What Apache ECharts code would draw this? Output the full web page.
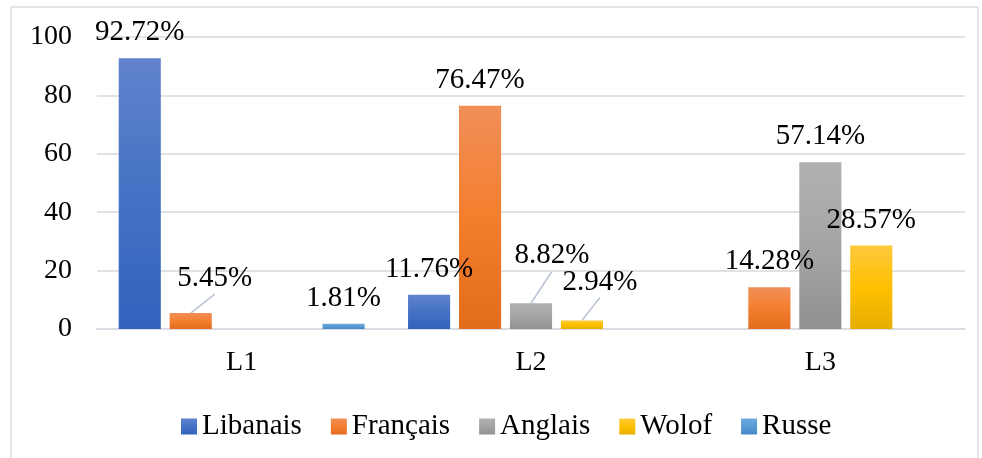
<!DOCTYPE html>
<html>
<head>
<meta charset="utf-8">
<script src="https://cdn.jsdelivr.net/npm/echarts@6/dist/echarts.min.js"></script>
<style>
  html, body { margin: 0; padding: 0; background: #fff; }
  #chart { width: 982px; height: 458px; }
</style>
</head>
<body>
<div id="chart"></div>
<script>
const categories = ['L1', 'L2', 'L3'];
const seriesNames = ['Libanais', 'Français', 'Anglais', 'Wolof', 'Russe'];
const libanais = [92.72, 11.76, 0];
const francais = [5.45, 76.47, 14.28];
const anglais = [0, 8.82, 57.14];
const wolof = [0, 2.94, 28.57];
const russe = [1.81, 0, 0];
const yTicks = [0, 20, 40, 60, 80, 100];

// label moves for the small bars that have a leader line: [series][category]
const labelMoves = {
  'Français-0': [24, -9],
  'Anglais-1': [21, -22],
  'Wolof-1': [18, -13]
};

function grad(top, mid, bottom) {
  return new echarts.graphic.LinearGradient(0, 0, 0, 1, [
    { offset: 0, color: top },
    { offset: 0.5, color: mid },
    { offset: 1, color: bottom }
  ]);
}

const colors = [
  grad('#6283cd', '#4472c4', '#3262bd'),
  grad('#f18f58', '#f47e2d', '#e36c1c'),
  grad('#b1b1b1', '#a5a5a5', '#919191'),
  grad('#ffc93d', '#ffc000', '#e6ae00'),
  grad('#6ea8df', '#5b9bd5', '#4388c9')
];

const serif = 'Liberation Serif';
const values = [libanais, francais, anglais, wolof, russe];

const chart = echarts.init(document.getElementById('chart'));

const series = seriesNames.map((name, i) => ({
  name: name,
  type: 'bar',
  data: values[i],
  barGap: '21%',
  barCategoryGap: '15%',
  itemStyle: { color: colors[i] },
  label: {
    show: true,
    position: 'top',
    distance: 11,
    fontFamily: serif,
    fontSize: 29,
    color: '#000',
    formatter: p => (p.value ? p.value.toFixed(2) + '%' : '')
  },
  labelLayout: p => {
    const m = labelMoves[name + '-' + p.dataIndex];
    return m ? { dx: m[0], dy: m[1] } : {};
  }
}));

const frame = {
  id: 'frame',
  type: 'rect',
  shape: { x: 11, y: 7, width: 967, height: 470 },
  style: { fill: 'none', stroke: '#d9dde3', lineWidth: 1.5 },
  silent: true
};

chart.setOption({
  animation: false,
  backgroundColor: '#fff',
  graphic: [frame],
  grid: { left: 97, right: 17, top: 37, bottom: 129 },
  legend: {
    data: seriesNames,
    left: 176,
    top: 407,
    itemWidth: 16,
    itemHeight: 16,
    itemGap: 29,
    icon: 'rect',
    textStyle: { fontFamily: serif, fontSize: 29, color: '#000' }
  },
  xAxis: {
    type: 'category',
    data: categories,
    axisLine: { lineStyle: { color: '#d9dde3', width: 2 } },
    axisTick: { show: false },
    axisLabel: { fontFamily: serif, fontSize: 28, color: '#000', margin: 20 }
  },
  yAxis: {
    type: 'value',
    min: yTicks[0],
    max: yTicks[yTicks.length - 1],
    interval: 20,
    axisLine: { show: false },
    axisTick: { show: false },
    splitLine: { lineStyle: { color: '#dfe3e8', width: 2 } },
    axisLabel: { fontFamily: serif, fontSize: 28, color: '#000', margin: 25 }
  },
  series: series
});

// leader lines: from the top centre of the bar to the bottom centre of its moved label
const leaders = [frame];
Object.keys(labelMoves).forEach((key, k) => {
  const parts = key.split('-');
  const j = +parts[1];
  const sIdx = seriesNames.indexOf(parts[0]);
  const data = chart.getModel().getSeriesByIndex(sIdx).getData();
  const bar = data.getItemLayout(j);
  const el = data.getItemGraphicEl(j);
  const label = el && el.getTextContent();
  if (!bar || !label) return;
  const r = label.getBoundingRect().clone();
  r.applyTransform(label.getComputedTransform());
  leaders.push({
    id: 'leader' + k,
    type: 'line',
    silent: true,
    shape: {
      x1: bar.x + bar.width / 2, y1: bar.y + Math.min(bar.height, 0),
      x2: r.x + r.width / 2, y2: r.y + r.height + 1
    },
    style: { stroke: '#b8c4d4', lineWidth: 1.5 }
  });
});
chart.setOption({ graphic: leaders });
</script>
</body>
</html>
